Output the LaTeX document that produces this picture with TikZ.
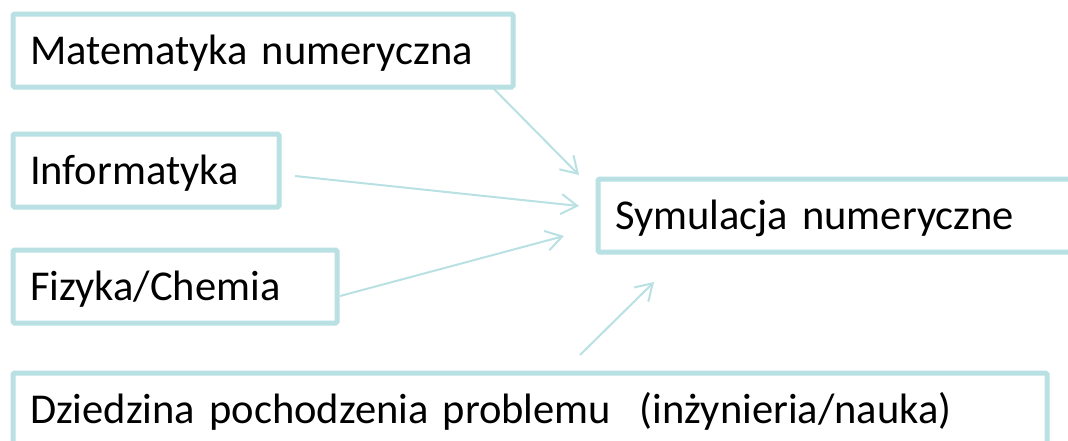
\documentclass[tikz,border=0pt]{standalone}
\usepackage{fontspec}
\setmainfont{Carlito}
\usetikzlibrary{arrows.meta}
\definecolor{ramka}{HTML}{B9E0E3}

\tikzset{
  pole/.style={draw=ramka, line width=5pt, rounded corners=1.5pt,
    anchor=north west, minimum height=73pt, inner xsep=17pt,
    text height=28pt, text depth=0pt, align=left, font=\fontsize{42.5}{42.5}\selectfont},
  strzalka/.style={draw=ramka, line width=2pt,
    -{Straight Barb[length=16pt,width=20pt,line width=2pt]}}
}

\begin{document}
\begin{tikzpicture}[x=1pt,y=-1pt]
      \useasboundingbox (0,0) rectangle (1068,440);
      \clip (0,0) rectangle (1068,440);

      % left column
      \node[pole, text width=466pt] (mat) at (10.5,11.5) {Matematyka numeryczna};
      \node[pole, text width=232pt] (inf) at (10.5,131.5) {Informatyka};
      \node[pole, text width=290pt] (fiz) at (10.5,247.5) {Fizyka/Chemia};

      % target
      \node[pole, text width=466pt] (sym) at (595.5,176.5) {Symulacja numeryczne};

      % bottom box
      \node[pole, text width=1000pt] (dzi) at (10.5,370.5)
            {Dziedzina pochodzenia problemu~ (inżynieria/nauka)};

      % arrow ends
      \coordinate (mat-s) at (493,88);
      \coordinate (mat-k) at (579,175);
      \coordinate (inf-s) at (295,176);
      \coordinate (inf-k) at (579,206);
      \coordinate (fiz-s) at (340,296);
      \coordinate (fiz-k) at (564,236);
      \coordinate (dzi-s) at (580,355);
      \coordinate (dzi-k) at (654,282);

      \foreach \z in {mat, inf, fiz, dzi}
               {
                 \draw[strzalka] (\z-s) -- (\z-k);
               }
\end{tikzpicture}
\end{document}
